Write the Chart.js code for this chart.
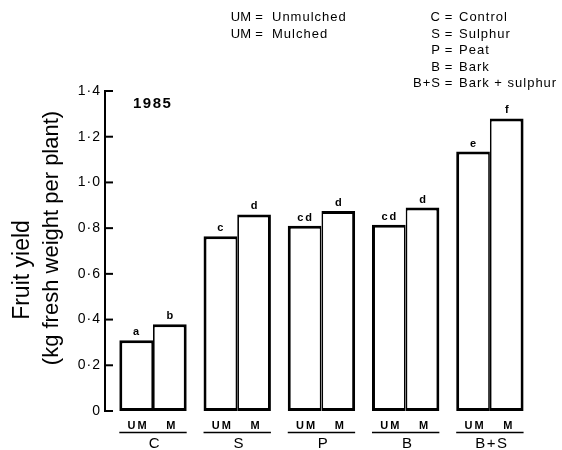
<!DOCTYPE html>
<html>
<head>
<meta charset="utf-8">
<title>Fruit yield 1985</title>
<script src="https://cdn.jsdelivr.net/npm/chart.js@4/dist/chart.umd.min.js"></script>
<style>
  html, body { margin: 0; padding: 0; background: #fff; }
  canvas { display: block; }
</style>
</head>
<body>
<canvas id="chart" width="562" height="450"></canvas>
<script>
// Treatments and their full names
const categories = ['C', 'S', 'P', 'B', 'B+S'];
const categoryNames = ['Control', 'Sulphur', 'Peat', 'Bark', 'Bark + sulphur'];

// Mulch codes under each pair of bars, and the mulch key
const mulchCodes = ['UM', 'M'];
const mulchKeyCodes = ['UM', 'UM'];
const mulchKeyNames = ['Unmulched', 'Mulched'];

// Fruit yield, kg fresh weight per plant
const unmulched = [0.31, 0.765, 0.81, 0.815, 1.135];
const mulched = [0.38, 0.86, 0.875, 0.89, 1.28];

// Significance letters above the bars
const unmulchedLetters = ['a', 'c', 'cd', 'cd', 'e'];
const mulchedLetters = ['b', 'd', 'd', 'd', 'f'];

// Y axis ticks
const yTickValues = [0, 0.2, 0.4, 0.6, 0.8, 1.0, 1.2, 1.4];

const yearLabel = '1985';
const yTitleLines = ['Fruit yield', '(kg fresh weight per plant)'];

const FONT = "'Liberation Sans', Arial, Helvetica, sans-serif";

function series(values) {
  return values.map((v, i) => ({ x: i + 1, y: v }));
}

function text(ctx, str, x, y, opts) {
  ctx.save();
  ctx.font = opts.font;
  ctx.letterSpacing = opts.spacing || '0px';
  ctx.textAlign = opts.align || 'left';
  ctx.textBaseline = 'alphabetic';
  ctx.fillStyle = '#000';
  ctx.fillText(str, x, y);
  ctx.restore();
}

const annotations = {
  id: 'annotations',
  beforeDraw(chart) {
    chart.ctx.letterSpacing = '1px';
  },
  beforeDatasetsDraw(chart) {
    chart.ctx.letterSpacing = '0px';
  },
  afterDraw(chart) {
    const ctx = chart.ctx;
    const area = chart.chartArea;
    const xs = chart.scales.x;
    const ys = chart.scales.y;

    // inward tick marks on the y axis
    ctx.save();
    ctx.strokeStyle = '#000';
    ctx.lineWidth = 2;
    yTickValues.forEach(v => {
      const y = ys.getPixelForValue(v);
      ctx.beginPath();
      ctx.moveTo(area.left, y);
      ctx.lineTo(area.left + 8, y);
      ctx.stroke();
    });
    ctx.restore();

    // letters above bars, mulch codes and treatment labels below
    const metaUM = chart.getDatasetMeta(0);
    const metaM = chart.getDatasetMeta(1);
    const letterSets = [unmulchedLetters, mulchedLetters];
    [metaUM, metaM].forEach((meta, d) => {
      meta.data.forEach((bar, i) => {
        const p = bar.getProps(['x', 'y'], true);
        text(ctx, letterSets[d][i], p.x + 1, p.y - 5,
          { font: 'bold 11px ' + FONT, align: 'center', spacing: '2px' });
        text(ctx, mulchCodes[d], p.x + 2, 429,
          { font: 'bold 11px ' + FONT, align: 'center', spacing: '2px' });
      });
    });

    categories.forEach((cat, i) => {
      const a = metaUM.data[i].getProps(['x', 'width'], true);
      const b = metaM.data[i].getProps(['x', 'width'], true);
      const left = a.x - a.width / 2;
      const right = b.x + b.width / 2;
      ctx.save();
      ctx.strokeStyle = '#000';
      ctx.lineWidth = 1.5;
      ctx.beginPath();
      ctx.moveTo(left, 432.5);
      ctx.lineTo(right, 432.5);
      ctx.stroke();
      ctx.restore();
      text(ctx, cat, xs.getPixelForValue(i + 1) + 2, 447.5,
        { font: '15px ' + FONT, align: 'center', spacing: '1.5px' });
    });

    // year
    text(ctx, yearLabel, area.left + 28, area.top + 17,
      { font: 'bold 15px ' + FONT, spacing: '1.5px' });

    // mulch key
    const keyFont = '13px ' + FONT;
    mulchKeyCodes.forEach((code, i) => {
      const y = 21 + i * 16.5;
      text(ctx, code, 251, y, { font: keyFont, align: 'right', spacing: '0px' });
      text(ctx, '=', 259, y, { font: keyFont, align: 'center' });
      text(ctx, mulchKeyNames[i], 272, y, { font: keyFont, spacing: '1px' });
    });

    // treatment key
    categories.forEach((cat, i) => {
      const y = 21 + i * 16.6;
      text(ctx, cat, 441, y, { font: keyFont, align: 'right', spacing: '1px' });
      text(ctx, '=', 448.5, y, { font: keyFont, align: 'center' });
      text(ctx, categoryNames[i], 459, y, { font: keyFont, spacing: '1px' });
    });

    // y axis title
    const titlePos = [[29, 270, 23], [58, 238, 22]];
    yTitleLines.forEach((line, i) => {
      const [tx, ty, size] = titlePos[i];
      ctx.save();
      ctx.translate(tx, ty);
      ctx.rotate(-Math.PI / 2);
      ctx.font = size + 'px ' + FONT;
      ctx.letterSpacing = '0px';
      ctx.textAlign = 'center';
      ctx.textBaseline = 'alphabetic';
      ctx.fillStyle = '#000';
      ctx.fillText(line, 0, 0);
      ctx.restore();
    });
  }
};

const barStyle = {
  backgroundColor: '#fff',
  borderColor: '#000',
  borderSkipped: false,
  categoryPercentage: 0.8,
  barPercentage: 1.0
};

new Chart(document.getElementById('chart'), {
  type: 'bar',
  data: {
    datasets: [
      Object.assign({
        label: mulchKeyNames[0],
        data: series(unmulched),
        borderWidth: { top: 3, left: 3, bottom: 3, right: 1.75 }
      }, barStyle),
      Object.assign({
        label: mulchKeyNames[1],
        data: series(mulched),
        borderWidth: { top: 3, left: 1.75, bottom: 3, right: 3 }
      }, barStyle)
    ]
  },
  options: {
    responsive: false,
    devicePixelRatio: 1,
    animation: false,
    layout: { padding: { top: 91, right: 30, bottom: 39, left: 0 } },
    plugins: {
      legend: { display: false },
      tooltip: { enabled: false }
    },
    scales: {
      x: {
        type: 'linear',
        min: 0.43,
        max: 5.5,
        offset: false,
        display: false,
        afterBuildTicks: s => { s.ticks = categories.map((c, i) => ({ value: i + 1 })); }
      },
      y: {
        min: 0,
        max: 1.4,
        afterBuildTicks: s => { s.ticks = yTickValues.map(v => ({ value: v })); },
        afterFit: s => { s.width = 105; },
        grid: { display: false, drawTicks: false },
        border: { display: true, color: '#000', width: 2 },
        ticks: {
          color: '#000',
          padding: 4,
          font: { family: FONT, size: 14 },
          callback: v => (v === 0 ? '0' : v.toFixed(1).replace('.', '\u00B7'))
        }
      }
    }
  },
  plugins: [annotations]
});
</script>
</body>
</html>
